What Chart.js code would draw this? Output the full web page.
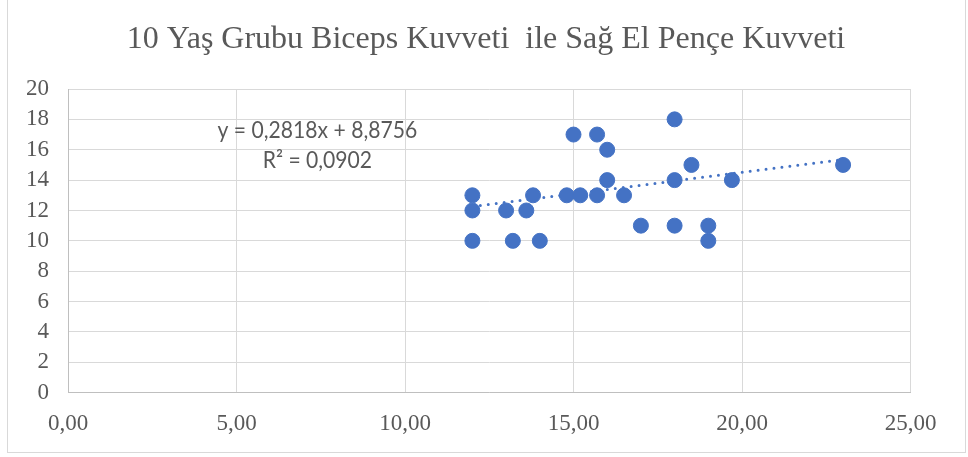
<!DOCTYPE html>
<html>
<head>
<meta charset="utf-8">
<script src="https://cdn.jsdelivr.net/npm/chart.js@4/dist/chart.umd.min.js"></script>
<style>
  html, body { margin: 0; padding: 0; background: #fff; }
  #wrap { position: relative; width: 968px; height: 457px; }
  #frame {
    position: absolute; left: 7px; top: -2px; width: 959px; height: 455px;
    border: 1px solid #d9d9d9; box-sizing: border-box; pointer-events: none;
  }
  canvas { position: absolute; left: 0; top: 0; }
</style>
</head>
<body>
<div id="wrap">
  <canvas id="chart" width="968" height="457"></canvas>
  <div id="frame"></div>
</div>
<script>
// Data.
const bicepsX = [12, 12, 12, 13, 13.2, 13.6, 13.8, 14, 14.8, 15, 15.2, 15.7, 15.7, 16, 16, 16.5, 17, 18, 18, 18, 18.5, 19, 19, 19.7, 23];
const grip = [13, 12, 10, 12, 10, 12, 13, 10, 13, 17, 13, 17, 13, 16, 14, 13, 11, 18, 14, 11, 15, 11, 10, 14, 15];

// Trendline from the label on the chart.
const slope = 0.2818;
const intercept = 8.8756;
const trendLabel = ['y = 0,2818x + 8,8756', 'R² = 0,0902'];

const titleText = '10 Yaş Grubu Biceps Kuvveti  ile Sağ El Pençe Kuvveti';
const xTicks = [0, 5, 10, 15, 20, 25];
const yTicks = [0, 2, 4, 6, 8, 10, 12, 14, 16, 18, 20];

const blue = '#4472C4';
const grey = '#595959';

const points = bicepsX.map((x, i) => ({x: x, y: grip[i]}));
const xMin = Math.min(...bicepsX);
const xMax = Math.max(...bicepsX);
const trend = [xMin, xMax].map(x => ({x: x, y: slope * x + intercept}));

// Title drawn by hand so it can sit centred on the whole frame.
const titlePlugin = {
  id: 'titlePlugin',
  afterDraw(chart) {
    const ctx = chart.ctx;
    ctx.save();
    ctx.font = '32px "Liberation Serif"';
    ctx.fillStyle = grey;
    ctx.textAlign = 'center';
    ctx.textBaseline = 'alphabetic';
    ctx.fillText(titleText, 486, 48);
    ctx.restore();
  }
};

// Trendline equation, anchored in data units, squeezed to a Calibri-like width.
const trendText = {
  id: 'trendText',
  afterDatasetsDraw(chart) {
    const ctx = chart.ctx;
    const xs = chart.scales.x;
    const ys = chart.scales.y;
    const cx = xs.getPixelForValue(7.4);
    const rows = [17.25, 15.3];
    const squeeze = 0.88;
    ctx.save();
    ctx.font = '24px Lato';
    ctx.fillStyle = grey;
    ctx.textAlign = 'center';
    ctx.textBaseline = 'middle';
    trendLabel.forEach((t, i) => {
      ctx.save();
      ctx.translate(cx, ys.getPixelForValue(rows[i]));
      ctx.scale(squeeze, 1);
      ctx.fillText(t, 0, 0);
      ctx.restore();
    });
    ctx.restore();
  }
};

const config = {
  type: 'scatter',
  data: {
    datasets: [
      {
        label: 'points',
        data: points,
        backgroundColor: blue,
        borderColor: blue,
        pointRadius: 7.5,
        pointHoverRadius: 7.5,
        order: 1
      },
      {
        type: 'line',
        label: 'trend',
        data: trend,
        borderColor: blue,
        borderWidth: 3,
        borderDash: [0, 8],
        borderCapStyle: 'round',
        pointRadius: 0,
        fill: false,
        order: 2
      }
    ]
  },
  plugins: [trendText, titlePlugin],
  options: {
    responsive: false,
    animation: false,
    layout: { padding: { left: 0, right: 57.5, top: 89, bottom: 0 } },
    plugins: {
      legend: { display: false },
      tooltip: { enabled: false },
      title: { display: false }
    },
    scales: {
      x: {
        type: 'linear',
        min: 0,
        max: 25,
        afterBuildTicks: (scale) => { scale.ticks = xTicks.map(v => ({value: v})); },
        afterFit: (scale) => { scale.height = 64.3; },
        ticks: {
          color: grey,
          autoSkip: false,
          maxRotation: 0,
          font: { family: 'Liberation Serif', size: 23 },
          padding: 17,
          callback: (v) => v.toFixed(2).replace('.', ',')
        },
        grid: { color: '#d9d9d9', lineWidth: 1, drawTicks: false },
        border: { color: '#bfbfbf' }
      },
      y: {
        min: 0,
        max: 20,
        afterBuildTicks: (scale) => { scale.ticks = yTicks.map(v => ({value: v})); },
        afterFit: (scale) => { scale.width = 68; },
        ticks: {
          color: grey,
          autoSkip: false,
          font: { family: 'Liberation Serif', size: 23 },
          padding: 19
        },
        grid: { color: '#d9d9d9', lineWidth: 1, drawTicks: false },
        border: { color: '#bfbfbf' }
      }
    }
  }
};

new Chart(document.getElementById('chart'), config);
</script>
</body>
</html>
